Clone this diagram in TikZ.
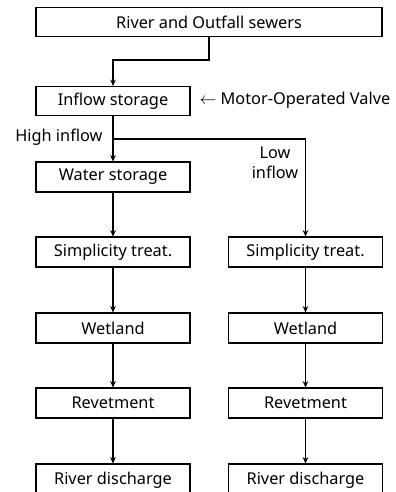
\documentclass[tikz,border=0pt]{standalone}
\usepackage{fontspec}
\setmainfont{Noto Sans}
\usetikzlibrary{arrows.meta}
\begin{document}
\begin{tikzpicture}[x=.025cm, y=-.025cm, line width=.8pt, >={Stealth[length=4.5pt,width=4pt]},
  box/.style={draw, minimum width=154*.025cm, minimum height=29*.025cm, inner sep=0pt, font=\fontsize{11.6}{14}\selectfont},
  lbl/.style={inner sep=0pt, font=\fontsize{11.6}{14}\selectfont}]
\useasboundingbox (0,0) rectangle (395,492);

\node[box, minimum width=346*.025cm] (top) at (209,22) {River and Outfall sewers};
\node[box] (inflow) at (113,101) {Inflow storage};
\node[box, minimum height=30*.025cm] (water) at (113,177) {Water storage};

\node[box, minimum height=30*.025cm] (simpL) at (113,252) {Simplicity treat.};
\node[box, minimum height=30*.025cm] (simpR) at (305.5,252) {Simplicity treat.};
\node[box, minimum height=30*.025cm] (wetL) at (113,328) {Wetland};
\node[box, minimum height=30*.025cm] (wetR) at (305.5,328) {Wetland};
\node[box, minimum height=30*.025cm] (revL) at (113,403) {Revetment};
\node[box, minimum height=30*.025cm] (revR) at (305.5,403) {Revetment};
\node[box, minimum height=32*.025cm] (disL) at (113,480) {River discharge};
\node[box, minimum height=32*.025cm] (disR) at (305.5,480) {River discharge};

\coordinate (bend) at (113,60);
\coordinate (split) at (113,139);

\draw [->] (top.south) |- (bend) -- (inflow.north);
\draw [->] (inflow) -- (water);
\draw [->] (split) -| (simpR.north);

\draw [->] (water) -- (simpL);
\draw [->] (simpL) -- (wetL);
\draw [->] (wetL) -- (revL);
\draw [->] (revL) -- (disL);

\draw [->] (simpR) -- (wetR);
\draw [->] (wetR) -- (revR);
\draw [->] (revR) -- (disR);

% labels
\node[lbl, anchor=west] (valve) at (199,100) {$\leftarrow$ Motor-Operated Valve};
\node[lbl, anchor=east] (high) at (103,137) {High inflow};
\node[lbl, align=center] (low) at (275,163) {Low\\inflow};
\end{tikzpicture}
\end{document}
